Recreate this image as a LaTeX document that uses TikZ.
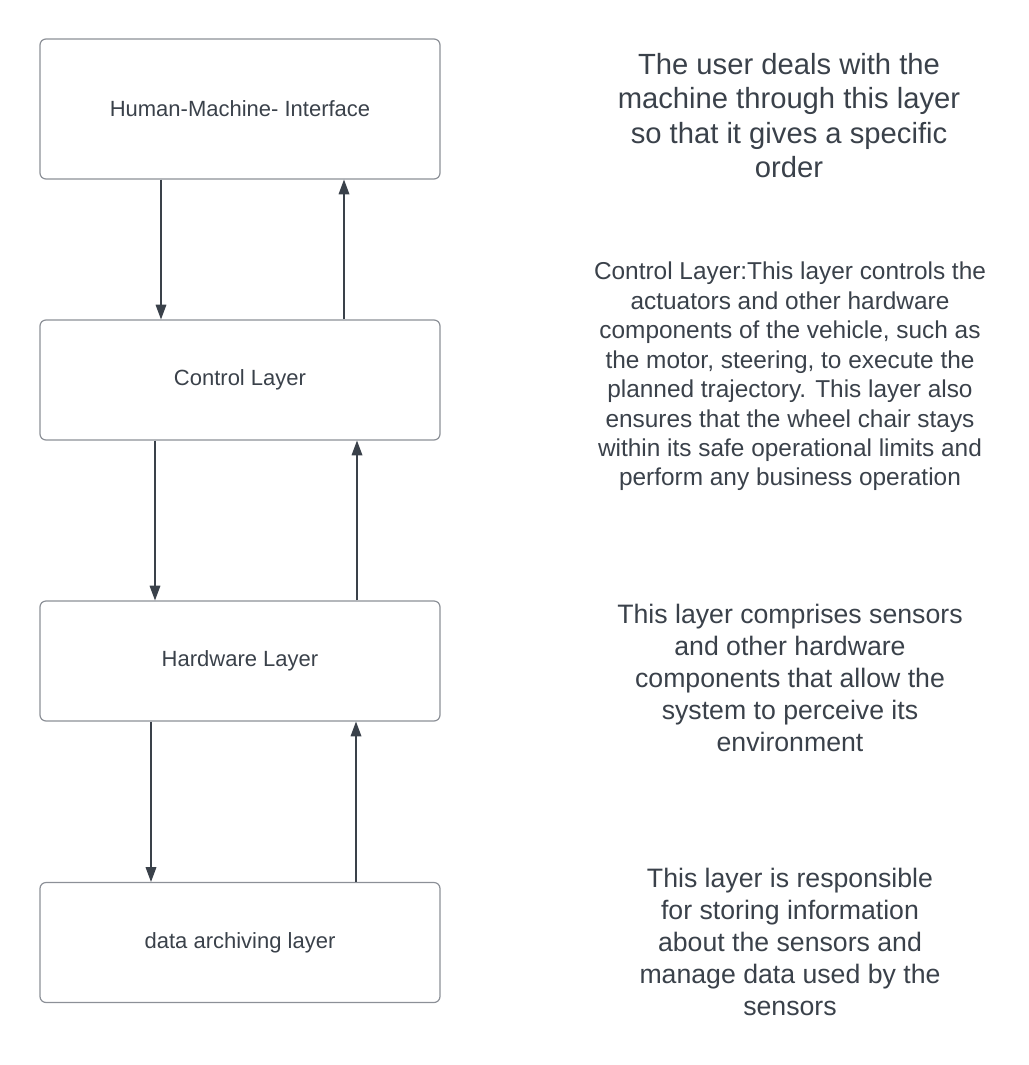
\documentclass[tikz,border=0pt]{standalone}
\usepackage{fontspec}
\setmainfont{Liberation Sans}
\usetikzlibrary{arrows.meta}
\definecolor{inkgray}{HTML}{3A414A}
\definecolor{boxgray}{HTML}{8C9097}
\begin{document}
\begin{tikzpicture}[x=0.75pt,y=-0.75pt,
    layer/.style={draw=boxgray,line width=0.9pt,rounded corners=4.5pt,
      minimum width=300pt,minimum height=90pt,text=inkgray,
      font=\fontsize{16.5pt}{20pt}\selectfont},
    note/.style={align=center,text=inkgray,inner sep=0pt},
    arr/.style={draw=inkgray,line width=0.9pt,-{Triangle[width=8pt,length=11pt]}}]
    \useasboundingbox (0,0) rectangle (1029,1065);
    \node[layer,minimum height=105pt] (hmi) at (240,109) {Human-Machine- Interface};
    \node[layer] (ctrl) at (240,380) {Control Layer};
    \node[layer] (hw) at (240,661) {Hardware Layer};
    \node[layer] (data) at (240,942.5) {data archiving layer};
    \begin{scope}[style = arr]
        \draw (hmi.south -| 161,0) -- (ctrl.north -| 161,0);
        \draw (ctrl.north -| 344,0) -- (hmi.south -| 344,0);
        \draw (ctrl.south -| 155,0) -- (hw.north -| 155,0);
        \draw (hw.north -| 357,0) -- (ctrl.south -| 357,0);
        \draw (hw.south -| 151,0) -- (data.north -| 151,0);
        \draw (data.north -| 356,0) -- (hw.south -| 356,0);
    \end{scope}
    \node[note,font=\fontsize{21.9pt}{25.8pt}\selectfont] (hmitext) at (789,115.5)
        {The user deals with the\\machine through this layer\\so that it gives a specific\\order};
    \node[note,font=\fontsize{18.3pt}{22.1pt}\selectfont] (ctrltext) at (790,376.5)
        {Control Layer:This layer controls the\\actuators and other hardware\\components of the vehicle, such as\\the motor, steering, to execute the\\planned trajectory. This layer also\\ensures that the wheel chair stays\\within its safe operational limits and\\perform any business operation};
    \node[note,font=\fontsize{20pt}{24pt}\selectfont] (hwtext) at (790,678)
        {This layer comprises sensors\\and other hardware\\components that allow the\\system to perceive its\\environment};
    \node[note,font=\fontsize{20pt}{24pt}\selectfont] (datatext) at (790,942)
        {This layer is responsible\\for storing information\\about the sensors and\\manage data used by the\\sensors};
\end{tikzpicture}
\end{document}
